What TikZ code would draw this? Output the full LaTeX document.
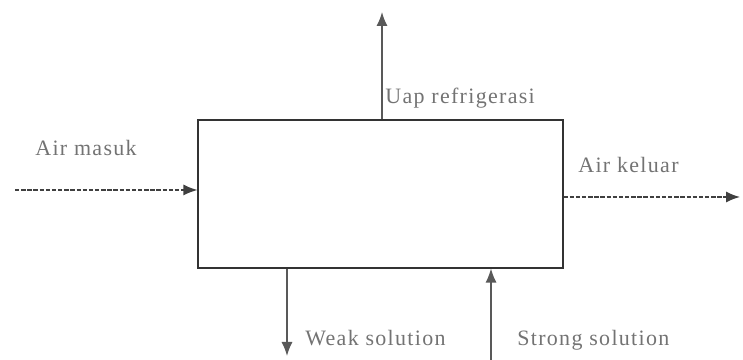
\documentclass[tikz,border=0pt]{standalone}
\usepackage{fontspec}
\setmainfont{Liberation Serif}[LetterSpace=6]
\usetikzlibrary{arrows.meta}

\begin{document}
\begin{tikzpicture}[
      font=\fontsize{12.5}{14}\selectfont,
      unit/.style={draw=black!80, semithick, minimum width=7.3cm,
                   minimum height=2.96cm, inner sep=0pt},
      flow/.style={-{Latex[length=2.8mm, width=2.2mm]}, draw=black!65, thick},
      water/.style={-{Latex[length=2.8mm, width=2.2mm]}, draw=black!75, thick,
                    dash pattern=on 2.5pt off 1pt},
      lbl/.style={anchor=west, text=black!55, inner sep=0pt}
    ]
    \useasboundingbox (0,0) rectangle (14.86,7.2);

    % --- Generator block --------------------------------------------------
    \node[unit] (gen) at (7.61,3.32) {};

    % free ends of the streams
    \coordinate (uap)    at (7.64,6.96);
    \coordinate (masuk)  at (0.30,3.40);
    \coordinate (keluar) at (14.80,3.26);
    \coordinate (weak)   at (5.74,0.08);
    \coordinate (strong) at (9.82,0.00);

    % --- Streams ----------------------------------------------------------
    \draw[flow]  (gen.north -| uap) -- (uap);
    \draw[water] (masuk) -- (gen.west |- masuk);
    \draw[water] (gen.east |- keluar) -- (keluar);
    \draw[flow]  (gen.south -| weak) -- (weak);
    \draw[flow]  (strong) -- (gen.south -| strong);

    \node[lbl] (luap)    at (7.70,5.24)  {Uap refrigerasi};
    \node[lbl] (lmasuk)  at (0.70,4.24)  {Air masuk};
    \node[lbl] (lkeluar) at (11.56,3.90) {Air keluar};
    \node[lbl] (lweak)   at (6.10,0.44)  {Weak solution};
    \node[lbl] (lstrong) at (10.34,0.40) {Strong solution};
  \end{tikzpicture}
\end{document}
